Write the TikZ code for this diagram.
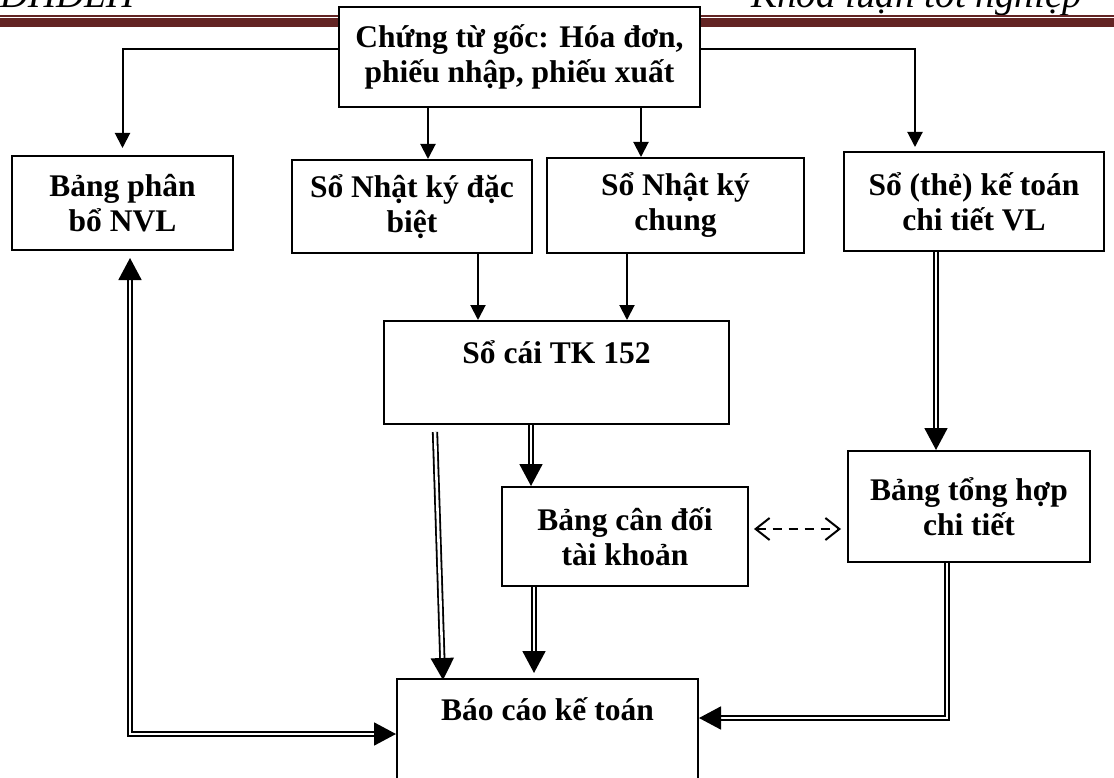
\documentclass[tikz,border=0pt]{standalone}
\usepackage{fontspec}
\setmainfont{Liberation Serif}
\usetikzlibrary{arrows.meta}
\definecolor{hdrred}{RGB}{99,36,35}
\tikzset{
  box/.style={draw, line width=2pt, fill=white, align=center, inner sep=0pt,
    font=\bfseries\fontsize{31.5}{35}\selectfont},
  hdr/.style={inner sep=0pt, font=\itshape\fontsize{39}{39}\selectfont},
  arr/.style={line width=2pt, -{Triangle[length=15pt,width=15pt]}},
  darr/.style={line width=1.8pt, double distance=2.6pt, -{Triangle[length=22pt,width=23pt]}},
  dsh/.style={line width=2pt, dash pattern=on 9pt off 7pt,
    {Straight Barb[length=14pt,width=22pt]}-{Straight Barb[length=14pt,width=22pt]}}
}
\begin{document}
\begin{tikzpicture}[x=1pt, y=-1pt]
\useasboundingbox (0,0) rectangle (1114,778);
\clip (0,0) rectangle (1114,778);
\node[hdr, anchor=base west] (hdrleft) at (0,7.5) {DHDLH};
\node[hdr, anchor=base east] (hdrright) at (1082,7.5) {Khóa luận tốt nghiệp};
\fill[hdrred] (0,15) rectangle (1114,16.7);
\fill[hdrred] (0,17.7) rectangle (1114,26.7);

\node[box, minimum width=361, minimum height=100] (goc) at (519.5,57) {Chứng từ gốc: Hóa đơn,\\ phiếu nhập, phiếu xuất};
\node[box, minimum width=221, minimum height=94] (phanbo) at (122.5,203) {Bảng phân\\ bổ NVL};
\node[box, minimum width=240, minimum height=93] (dacbiet) at (412,206.5) {Sổ Nhật ký đặc\\ biệt};
\node[box, minimum width=257, minimum height=95] (chung) at (675.5,205.5) {Sổ Nhật ký\\ chung};
\node[box, minimum width=260, minimum height=99] (sothe) at (974,201.5) {Sổ (thẻ) kế toán\\ chi tiết VL};
\node[box, minimum width=345, text height=42pt, text depth=61pt, anchor=north] (socai) at (556.5,320) {Sổ cái TK 152};
\node[box, minimum width=246, minimum height=99] (candoi) at (625,536.5) {Bảng cân đối\\ tài khoản};
\node[box, minimum width=242, minimum height=111] (tonghop) at (969,506.5) {Bảng tổng hợp\\ chi tiết};
\node[box, minimum width=301, text height=41pt, text depth=81pt, anchor=north] (baocao) at (547.5,678) {Báo cáo kế toán};

\coordinate (a1) at ([xshift=16pt]dacbiet.north);
\coordinate (a2) at ([xshift=-34.5pt]chung.north);
\coordinate (b1) at ([xshift=66pt]dacbiet.south);
\coordinate (b2) at ([xshift=-48.5pt]chung.south);
\coordinate (c1) at ([xshift=-94pt]candoi.north);
\coordinate (c2) at ([xshift=-121.5pt, yshift=-7pt]socai.south);
\coordinate (c3) at ([xshift=-104.5pt, yshift=-2pt]baocao.north);
\coordinate (c4) at ([xshift=-91pt]candoi.south);
\coordinate (d1) at ([xshift=-38pt]sothe.south);
\coordinate (d2) at ([xshift=-22pt]tonghop.south);
\coordinate (e1) at ([xshift=7.5pt]phanbo.south);

\draw[arr, shorten >=7pt] ([yshift=8pt]goc.west) -| (phanbo.north);
\draw[arr, shorten >=4pt] ([yshift=8pt]goc.east) -| ([xshift=-59pt]sothe.north);
\draw[arr] (goc.south -| a1) -- (a1);
\draw[arr] (goc.south -| a2) -- (a2);
\draw[arr] (b1) -- (b1 |- socai.north);
\draw[arr] (b2) -- (b2 |- socai.north);
\draw[darr] (socai.south -| c1) -- (c1);
\draw[darr] (c2) -- (c3);
\draw[darr, shorten >=5pt] (c4) -- (c4 |- baocao.north);
\draw[darr] (d1) -- (d1 |- tonghop.north);
\draw[darr] (d2) |- ([yshift=22pt]baocao.east);
\draw[darr, {Triangle[length=22pt,width=23pt]}-{Triangle[length=22pt,width=23pt]}, shorten >=7pt] ([yshift=6pt]baocao.west) -| (e1);
\draw[dsh, shorten <=5pt, shorten >=6pt] ([yshift=7.5pt]candoi.east) -- ([yshift=7.5pt]candoi.east -| tonghop.west);
\end{tikzpicture}
\end{document}
